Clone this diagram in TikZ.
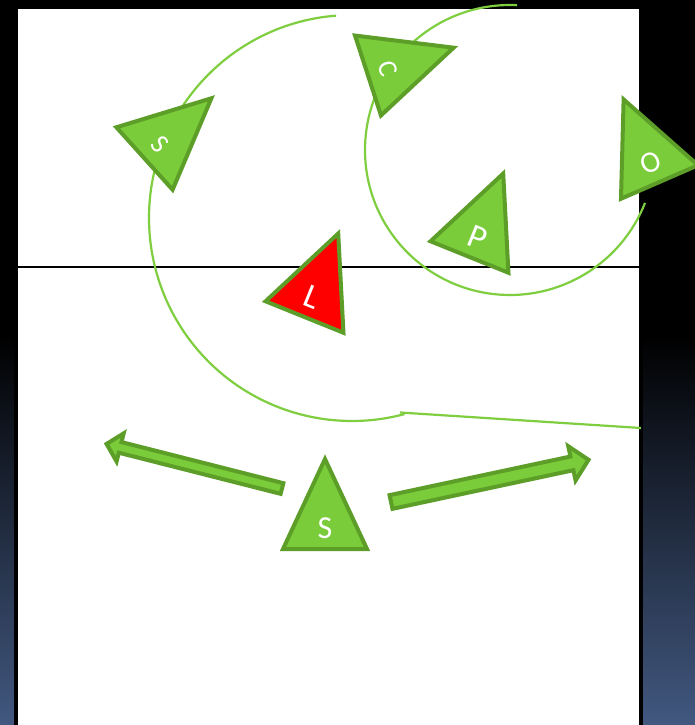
\documentclass[tikz,border=0pt]{standalone}
\usepackage{fontspec}
\setmainfont{Carlito}
\definecolor{gfill}{RGB}{122,204,58}
\definecolor{gline}{RGB}{92,158,40}
\definecolor{curvecol}{RGB}{126,206,64}
\definecolor{bgblue}{RGB}{66,88,128}
\tikzset{
  tri/.style={fill=gfill, draw=gline, line width=4},
  lab/.style={text=white, inner sep=0pt, transform shape},
  curve/.style={draw=curvecol, line width=2.2},
}
\newcommand\mytri[7]{%
  \begin{scope}[shift={(#1,#2)},rotate=#3]
    \draw[tri,fill=#6] (-42,0) -- (42,0) -- (0,-90) -- cycle;
    \node[lab,font=\fontsize{#5}{#5}\selectfont] (#7) at (0,-21) {#4};
  \end{scope}}
\begin{document}
\begin{tikzpicture}[x=1pt,y=-1pt]
\useasboundingbox (0,0) rectangle (695,725);
% background
\fill[black] (0,0) rectangle (695,725);
\shade[top color=black,bottom color=bgblue] (0,335) rectangle (695,725);
% court
\draw[black,line width=4,fill=white] (16,7) rectangle (641,740);
\draw[black,line width=2] (18,267) -- (639,267);
% curves
\draw[curve] (352,218) ++(265.5:203) arc[start angle=265.5,end angle=75,radius=203];
\draw[curve] (510,150) ++(272.8:145) arc[start angle=272.8,end angle=21.4,radius=145];
\draw[curve] (400,412.5) -- (641,428);
% arrows
\begin{scope}[shift={(282,488.5)},rotate=165.75]
  \draw[tri] (0,-5.5) -- (167,-5.5) -- (167,-14.5) -- (181,0) -- (167,14.5) -- (167,5.5) -- (0,5.5) -- cycle;
\end{scope}
\begin{scope}[shift={(391,502)},rotate=12.06]
  \draw[tri] (0,-7) -- (185,-7) -- (185,-17.5) -- (202,0) -- (185,17.5) -- (185,7) -- (0,7) -- cycle;
\end{scope}
% triangles
\mytri{325}{549}{0}{S}{32}{gfill}{s1}
\mytri{144.5}{158.5}{-48}{S}{27}{gfill}{s2}
\mytri{368}{75.5}{-72}{C}{27}{gfill}{c}
\mytri{659.5}{182}{23.5}{O}{30}{gfill}{o}
\mytri{469.5}{257}{-22}{P}{34}{gfill}{p}
\mytri{304.5}{317}{-22}{L}{34}{red}{l}
\end{tikzpicture}
\end{document}
